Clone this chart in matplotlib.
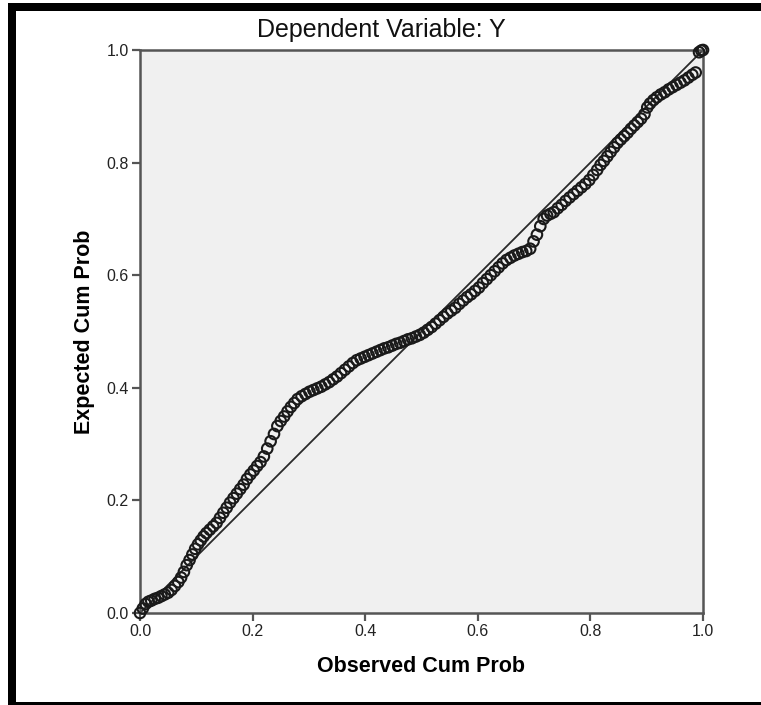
import matplotlib
matplotlib.use("Agg")
import matplotlib.pyplot as plt
from matplotlib.patches import Rectangle

plt.rcParams["font.family"] = ["Liberation Sans", "DejaVu Sans"]

# P-P plot of regression standardized residual
observed = [
    0.000, 0.005, 0.010, 0.015, 0.020, 0.026, 0.032, 0.038, 0.044, 0.050,
    0.056, 0.062, 0.068, 0.073, 0.078, 0.083, 0.088, 0.093, 0.098, 0.103,
    0.108, 0.113, 0.118, 0.124, 0.130, 0.136, 0.142, 0.148, 0.154, 0.160,
    0.166, 0.172, 0.178, 0.184, 0.190, 0.196, 0.202, 0.208, 0.214, 0.220,
    0.226, 0.232, 0.238, 0.244, 0.250, 0.256, 0.262, 0.268, 0.274, 0.280,
    0.287, 0.294, 0.301, 0.308, 0.315, 0.322, 0.329, 0.336, 0.343, 0.350,
    0.357, 0.364, 0.371, 0.378, 0.385, 0.392, 0.399, 0.406, 0.413, 0.420,
    0.427, 0.434, 0.441, 0.448, 0.455, 0.462, 0.469, 0.476, 0.483, 0.490,
    0.497, 0.504, 0.511, 0.518, 0.525, 0.532, 0.539, 0.546, 0.553, 0.560,
    0.567, 0.574, 0.581, 0.588, 0.595, 0.602, 0.609, 0.616, 0.623, 0.630,
    0.637, 0.644, 0.651, 0.658, 0.665, 0.672, 0.679, 0.686, 0.693, 0.699,
    0.705, 0.711, 0.717, 0.723, 0.729, 0.735, 0.742, 0.749, 0.756, 0.763,
    0.770, 0.777, 0.784, 0.791, 0.798, 0.805, 0.812, 0.818, 0.824, 0.830,
    0.836, 0.842, 0.848, 0.854, 0.860, 0.866, 0.872, 0.878, 0.884, 0.890,
    0.896, 0.901, 0.906, 0.912, 0.918, 0.925, 0.932, 0.939, 0.946, 0.953,
    0.960, 0.967, 0.974, 0.981, 0.987, 0.993, 0.997, 1.000,
]
expected = [
    0.000, 0.008, 0.016, 0.020, 0.022, 0.025, 0.027, 0.030, 0.033, 0.036,
    0.041, 0.048, 0.055, 0.063, 0.073, 0.085, 0.094, 0.104, 0.114, 0.122,
    0.129, 0.136, 0.142, 0.148, 0.154, 0.160, 0.169, 0.178, 0.187, 0.196,
    0.204, 0.212, 0.220, 0.228, 0.238, 0.246, 0.253, 0.261, 0.268, 0.278,
    0.292, 0.305, 0.318, 0.332, 0.341, 0.349, 0.358, 0.366, 0.373, 0.380,
    0.385, 0.389, 0.393, 0.396, 0.399, 0.402, 0.406, 0.410, 0.415, 0.420,
    0.426, 0.432, 0.438, 0.444, 0.449, 0.452, 0.455, 0.458, 0.461, 0.464,
    0.467, 0.470, 0.472, 0.475, 0.478, 0.480, 0.483, 0.486, 0.488, 0.491,
    0.494, 0.498, 0.503, 0.508, 0.514, 0.520, 0.526, 0.532, 0.537, 0.542,
    0.549, 0.555, 0.561, 0.566, 0.572, 0.578, 0.586, 0.593, 0.600, 0.607,
    0.614, 0.621, 0.627, 0.631, 0.635, 0.638, 0.641, 0.643, 0.647, 0.660,
    0.672, 0.687, 0.700, 0.706, 0.709, 0.712, 0.719, 0.725, 0.732, 0.738,
    0.744, 0.750, 0.756, 0.762, 0.769, 0.778, 0.787, 0.796, 0.803, 0.811,
    0.819, 0.827, 0.835, 0.841, 0.847, 0.853, 0.860, 0.866, 0.872, 0.878,
    0.886, 0.898, 0.905, 0.911, 0.916, 0.921, 0.925, 0.930, 0.934, 0.938,
    0.942, 0.946, 0.951, 0.956, 0.960, 0.996, 0.999, 1.000,
]
ticks = [0.0, 0.2, 0.4, 0.6, 0.8, 1.0]
tick_labels = ["0.0", "0.2", "0.4", "0.6", "0.8", "1.0"]

W, H = 761, 705
fig = plt.figure(figsize=(W / 100, H / 100), dpi=100)

# black frame (cropped chart border)
frame_kw = dict(transform=fig.transFigure, facecolor="black", edgecolor="none")
fig.add_artist(Rectangle((8 / W, 0), 8 / W, 702 / H, **frame_kw))
fig.add_artist(Rectangle((8 / W, 694 / H), 1 - 8 / W, 8 / H, **frame_kw))
fig.add_artist(Rectangle((8 / W, 0), 1 - 8 / W, 3 / H, **frame_kw))

ax = fig.add_axes([140 / W, 92 / H, 563 / W, 563 / H])
ax.set_facecolor("#f0f0f0")

ax.plot([0, 1], [0, 1], color="#2a2a2a", lw=1.3, zorder=2)
ax.scatter(observed, expected, s=58, facecolors="none", edgecolors="#1a1a1a",
           linewidths=1.5, zorder=3, clip_on=False)

ax.set_xlim(0, 1)
ax.set_ylim(0, 1)
ax.set_xticks(ticks)
ax.set_xticklabels(tick_labels)
ax.set_yticks(ticks)
ax.set_yticklabels(tick_labels)
for s in ax.spines.values():
    s.set_color("#555555")
    s.set_linewidth(1.8)
ax.tick_params(direction="out", length=6, width=1.6, color="#555555",
               labelsize=11.5, labelcolor="#222222", pad=2)

ax.set_xlabel("Observed Cum Prob", fontsize=15.5, fontweight="bold", labelpad=12)
ax.set_ylabel("Expected Cum Prob", fontsize=15.5, fontweight="bold", labelpad=8)
fig.text(381 / W, 1 - 30 / H, "Dependent Variable: Y", ha="center", va="center",
         fontsize=18, color="#111111")

fig.savefig("out.png", dpi=100, facecolor="white")
